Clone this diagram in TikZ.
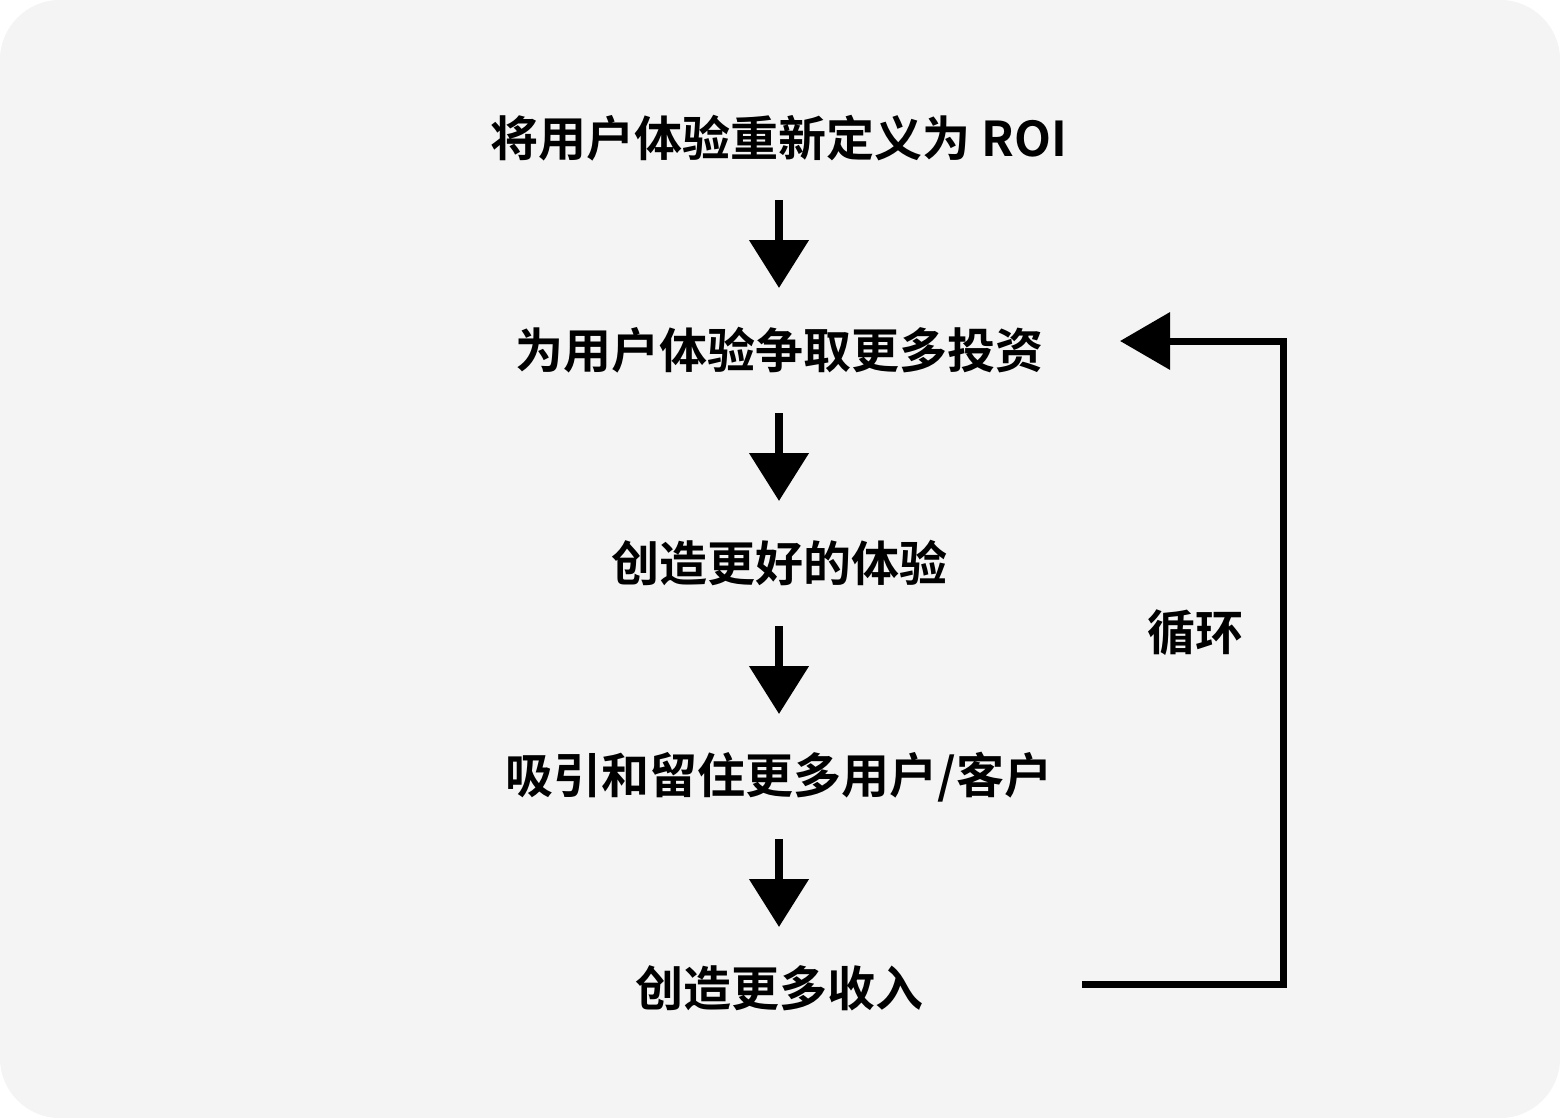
\documentclass[tikz,border=0pt]{standalone}
\usepackage{fontspec}
\setmainfont{Noto Sans CJK SC}[BoldFont={* Bold}]
\usetikzlibrary{arrows.meta}
\definecolor{bg}{RGB}{244,244,244}
\begin{document}
\begin{tikzpicture}[x=1pt,y=-1pt,
  lbl/.style={font=\fontsize{48}{52}\selectfont\bfseries, inner sep=0pt, anchor=center},
  arr/.style={line width=8pt, -{Triangle[length=48pt,width=58pt]}},
  loop/.style={line width=7pt, -{Triangle[length=50pt,width=56pt]}}]
\fill[white] (0,0) rectangle (1560,1118);
\fill[bg, rounded corners=60pt] (0,0) rectangle (1560,1118);
\node[lbl] (n1) at (779,138) {将用户体验重新定义为 ROI};
\node[lbl] (n2) at (779,350) {为用户体验争取更多投资};
\node[lbl] (n3) at (779,563) {创造更好的体验};
\node[lbl] (n4) at (779,777) {吸引和留住更多用户/客户};
\node[lbl] (n5) at (779,988) {创造更多收入};
\node[lbl] (lp) at (1195,633) {循环};
\foreach \a/\y in {a/200,b/413,c/626,d/839}{
  \coordinate (\a s) at (779,\y);
  \pgfmathsetmacro\e{\y+88}
  \coordinate (\a e) at (779,\e);
  \draw[arr] (\a s) -- (\a e);
}
\coordinate (l1) at (1082,984);
\coordinate (l2) at (1283,984);
\coordinate (l3) at (1283,341);
\coordinate (l4) at (1120,341);
\draw[loop] (l1) -- (l2) -- (l3) -- (l4);
\end{tikzpicture}
\end{document}
